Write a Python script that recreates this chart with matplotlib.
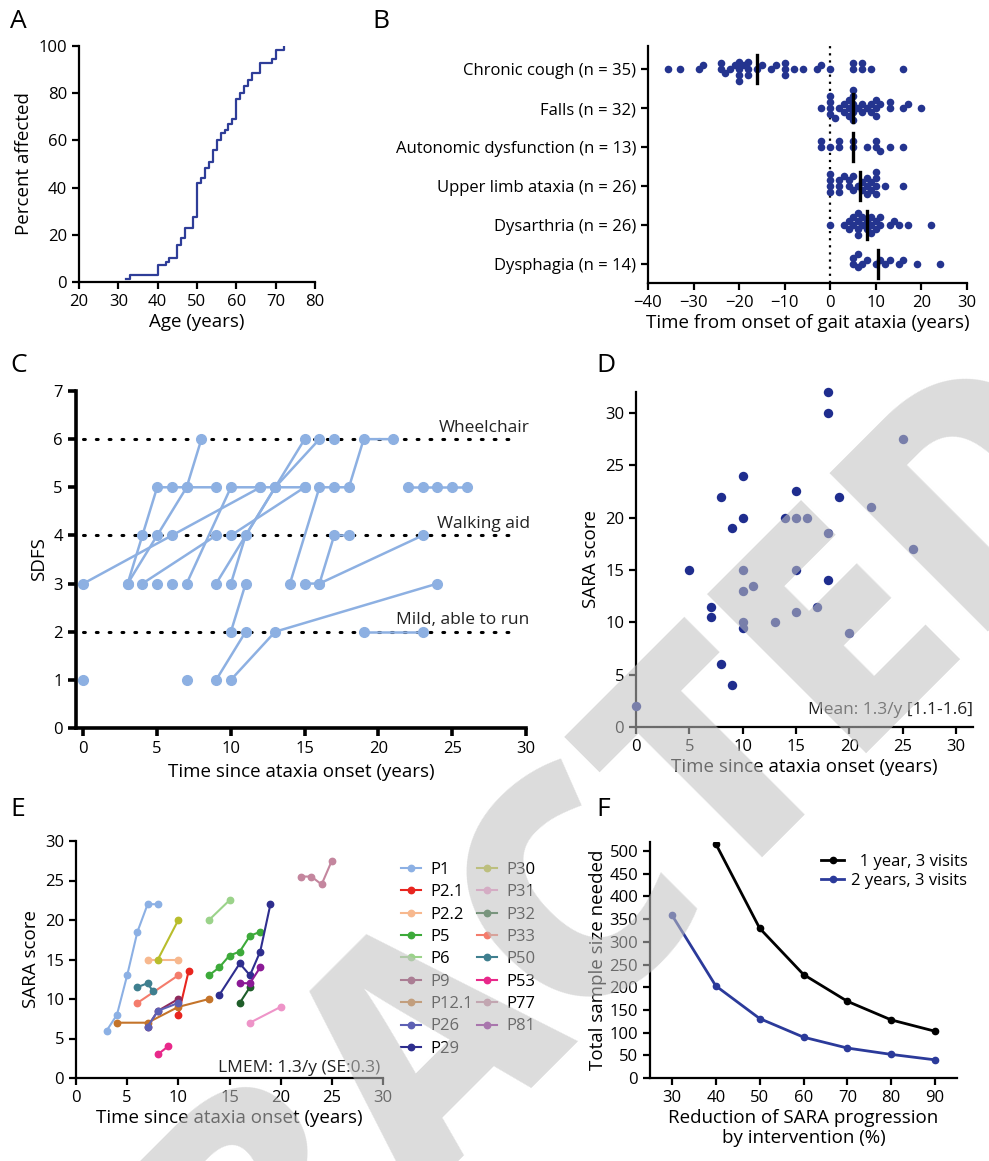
import numpy as np
import matplotlib.pyplot as plt

plt.rcParams['font.family'] = ['Open Sans', 'DejaVu Sans']
plt.rcParams['font.size'] = 12
plt.rcParams['axes.linewidth'] = 1.6
plt.rcParams['xtick.major.width'] = 1.6
plt.rcParams['ytick.major.width'] = 1.6
plt.rcParams['xtick.major.size'] = 5
plt.rcParams['ytick.major.size'] = 5
plt.rcParams['xtick.labelsize'] = 12
plt.rcParams['ytick.labelsize'] = 12
plt.rcParams['axes.labelsize'] = 13.5
plt.rcParams['xtick.direction'] = 'out'
plt.rcParams['ytick.direction'] = 'out'

NAVY = '#2e3d98'
DOT = '#24348f'
LIGHT = '#8db0e2'

# ---------------- data
# A: cumulative onset
age_steps = [32, 33, 40, 42, 43, 45, 46, 47, 49, 50, 51, 52, 53, 54, 55, 56, 57,
             58, 59, 60, 61, 62, 63, 64, 66, 69, 70, 72]
pct_affected = [1.4, 2.8, 7, 8.5, 10, 15.5, 18.5, 23, 27.5, 42, 44, 48.5, 51, 56,
                60, 63, 64.5, 67, 69, 77.5, 80, 83, 85.5, 88.5, 93, 94.5, 98.5, 100]

# B: symptom onset relative to gait ataxia
symptoms = ['Chronic cough (n = 35)', 'Falls (n = 32)', 'Autonomic dysfunction (n = 13)',
            'Upper limb ataxia (n = 26)', 'Dysarthria (n = 26)', 'Dysphagia (n = 14)']
cough = [-35.7, -32.9, -28.9, -27.9, -24, -24, -23, -22, -21, -20, -20, -20, -20, -19,
         -18, -18, -18, -16, -15, -13, -12, -10, -10, -10, -8, -6, -3, -2, 0, 5, 5, 7, 7, 9, 16]
falls = [-2, 0, 0, 0, 0, 1, 2, 3, 3, 4, 4, 4, 5, 5, 5, 5, 5, 6, 7, 7, 8, 9, 9, 10, 10, 10,
         11, 13, 13, 16, 17, 20]
autonomic = [-2, -2, 0, 2, 2, 5, 5, 8, 10, 10, 11, 13, 16]
upper_limb = [0, 0, 0, 0, 2, 2, 2, 3, 4, 4, 5, 5, 6, 7, 7, 8, 8, 8, 9, 9, 10, 10, 10, 10, 12, 16]
dysarthria = [0, 3, 4, 4, 5, 5, 6, 6, 6, 6, 7, 7, 8, 8, 9, 9, 9, 10, 10, 11, 11, 13, 14, 15, 17, 22]
dysphagia = [5, 5, 6, 6, 7, 8, 10, 11, 12, 13, 15, 16, 19, 24]

# C: SDFS trajectories (years since onset, stage)
sdfs_years = [[0], [0, 6, 12], [3, 4, 5, 6, 7, 9], [3, 5, 7, 8], [4, 9], [5], [6],
              [7, 10, 12, 13, 15], [7], [9, 11], [10, 13, 24], [10, 11], [9, 13, 15],
              [10, 11, 13, 16], [10, 15], [14, 16, 17, 18, 19, 21], [15, 16, 17, 18],
              [16, 23], [17], [19, 23], [22, 23, 24, 25, 26]]
sdfs_stage = [[1], [3, 4, 5], [3, 4, 5, 5, 5, 5], [3, 4, 5, 6], [3, 4], [3], [3],
              [3, 5, 5, 5, 5], [1], [1, 2], [1, 2, 3], [2, 3], [3, 5, 6],
              [3, 4, 5, 6], [4, 5], [3, 5, 5, 5, 6, 6], [3, 3, 4, 4],
              [3, 4], [6], [2, 2], [5, 5, 5, 5, 5]]
stage_lines = [2, 4, 6]
stage_names = ['Mild, able to run', 'Walking aid', 'Wheelchair']

# D: SARA vs disease duration
d_years = [18, 18, 25, 10, 15, 8, 19, 22, 10, 14, 15, 16, 9, 18, 26, 5, 10, 15, 18, 11,
           10, 7, 17, 15, 7, 10, 13, 10, 20, 8, 9, 0]
d_sara = [32, 30, 27.5, 24, 22.5, 22, 22, 21, 20, 20, 20, 20, 19, 18.5, 17, 15, 15, 15,
          14, 13.5, 13, 11.5, 11.5, 11, 10.5, 10, 10, 9.5, 9, 6, 4, 2]

# E: longitudinal SARA per patient
e_patients = ['P1', 'P2.1', 'P2.2', 'P5', 'P6', 'P9', 'P12.1', 'P26', 'P29',
              'P30', 'P31', 'P32', 'P33', 'P50', 'P53', 'P77', 'P81']
e_colors = ['#8cb0e4', '#e8251f', '#f7b88e', '#3daa3a', '#9bd38a', '#8e2a5c', '#c4742a',
            '#5d60b4', '#2e2e8e', '#b8bd2c', '#ee94c8', '#1f5e2a', '#f47c6c', '#3f7f8f',
            '#e8288a', '#c4869e', '#8b1a96']
e_years = [[3, 4, 5, 6, 7, 8], [10, 11], [7, 10], [13, 14, 15, 16, 17, 18], [13, 15],
           [7, 8, 10], [4, 7, 10, 13], [7, 8, 10], [14, 16, 17, 18, 19],
           [8, 10], [17, 20], [16, 17], [6, 10], [6, 7, 7.5], [8, 9], [22, 23, 24, 25],
           [16, 17, 18]]
e_sara = [[6, 8, 13, 18.5, 22, 22], [8, 13.5], [15, 15], [13, 14, 15.5, 16, 18, 18.5],
          [20, 22.5], [6.5, 8.5, 10], [7, 7, 9, 10], [6.5, 8.5, 9.5],
          [10.5, 14.5, 13, 16, 22], [15, 20], [7, 9], [9.5, 11.5], [9.5, 13],
          [11.5, 12, 11], [3, 4], [25.5, 25.5, 24.5, 27.5], [12, 12, 14]]

# F: sample size estimates
reduction = [30, 40, 50, 60, 70, 80, 90]
n_1year = [None, 516, 330, 228, 169, 128, 103]
n_2years = [359, 203, 131, 90, 66, 52, 40]

# ---------------- figure
W, H = 989, 1161
fig = plt.figure(figsize=(W / 100, H / 100), dpi=100)


def box(l, t, r, b):
    return [l / W, 1 - b / H, (r - l) / W, (b - t) / H]


def clean(ax):
    ax.spines['top'].set_visible(False)
    ax.spines['right'].set_visible(False)


# --- A
axA = fig.add_axes(box(79, 46, 315, 282))
axA.plot(age_steps, pct_affected, drawstyle='steps-post', color=NAVY, lw=1.6)
axA.set_xlim(20, 80)
axA.set_ylim(0, 100)
axA.set_xticks(range(20, 81, 10))
axA.set_yticks(range(0, 101, 20))
axA.set_xlabel('Age (years)', labelpad=2)
axA.set_ylabel('Percent affected')
clean(axA)

# --- B
axB = fig.add_axes(box(648, 46, 967, 283))
groups = [cough, falls, autonomic, upper_limb, dysarthria, dysphagia]
row_px = (283 - 46) / 6.1
sx = (967 - 648) / 70.0
diam = 6.0  # collision spacing of the swarm, px


def swarm(vals):
    xs = np.asarray(vals, float) * sx
    order = np.argsort(xs, kind='stable')
    placed = []
    offs = np.zeros(len(xs))
    for i in order:
        cands = [0.0]
        for xj, yj in placed:
            dx = xs[i] - xj
            if abs(dx) < diam:
                h = np.sqrt(diam ** 2 - dx ** 2)
                cands += [yj + h, yj - h]
        cands.sort(key=lambda c: (abs(c), c))
        for c in cands:
            if all((xs[i] - xj) ** 2 + (c - yj) ** 2 >= diam ** 2 - 1e-6 for xj, yj in placed):
                offs[i] = c
                break
        placed.append((xs[i], offs[i]))
    return offs


axB.axvline(0, color='black', lw=1.6, ls=(0, (1, 2.2)), zorder=1)
for k, vals in enumerate(groups):
    offs = swarm(vals)
    axB.scatter(vals, k + offs / row_px, s=30, color=DOT, lw=0, zorder=2)
    med = np.median(vals)
    axB.plot([med, med], [k - 0.36, k + 0.36], color='black', lw=2.4, zorder=3)
axB.set_xlim(-40, 30)
axB.set_ylim(5.5, -0.6)
axB.set_yticks(range(6))
axB.set_yticklabels(symptoms)
axB.set_xticks(range(-40, 31, 10))
axB.set_xlabel('Time from onset of gait ataxia (years)', labelpad=2)
clean(axB)

# --- C
axC = fig.add_axes(box(76, 391, 526, 728))
for s in ['left', 'bottom']:
    axC.spines[s].set_linewidth(2.6)
axC.tick_params(width=2.6, length=6)
for lvl, name in zip(stage_lines, stage_names):
    axC.plot([0, 29.2], [lvl, lvl], color='black', lw=2.2, ls=(0, (0.6, 3.6)),
             dash_capstyle='round', zorder=1)
    axC.text(30.25, lvl + 0.15, name, ha='right', va='baseline', fontsize=12.5,
             clip_on=False, color='#222222')
for xs_, ys_ in zip(sdfs_years, sdfs_stage):
    axC.plot(xs_, ys_, '-o', color=LIGHT, lw=1.8, ms=7, zorder=2)
axC.set_xlim(-0.5, 30)
axC.set_ylim(0, 7)
axC.set_xticks(range(0, 31, 5))
axC.set_yticks(range(0, 8))
axC.set_xlabel('Time since ataxia onset (years)', labelpad=4)
axC.set_ylabel('SDFS')
clean(axC)

# --- D
axD = fig.add_axes(box(636, 392, 973, 727))
axD.scatter(d_years, d_sara, s=46, color='#1f2d8e', lw=0, zorder=3, clip_on=False)
axD.set_xlim(0, 31.6)
axD.set_ylim(0, 32)
axD.set_xticks(range(0, 31, 5))
axD.set_yticks(range(0, 31, 5))
axD.text(1.0, 0.04, 'Mean: 1.3/y [1.1-1.6]', transform=axD.transAxes, ha='right',
         va='baseline', fontsize=12.5, color='#222222')
axD.set_xlabel('Time since ataxia onset (years)', labelpad=2)
axD.set_ylabel('SARA score')
clean(axD)

# --- E
axE = fig.add_axes(box(76, 841, 383, 1078))
for name, c, xs_, ys_ in zip(e_patients, e_colors, e_years, e_sara):
    axE.plot(xs_, ys_, '-o', color=c, lw=1.5, ms=4.6, label=name)
axE.set_xlim(0, 30)
axE.set_ylim(0, 30)
axE.set_xticks(range(0, 31, 5))
axE.set_yticks(range(0, 31, 5))
axE.text(0.99, 0.025, 'LMEM: 1.3/y (SE:0.3)', transform=axE.transAxes, ha='right',
         va='baseline', fontsize=12.5, color='#222222')
axE.set_xlabel('Time since ataxia onset (years)', labelpad=2)
axE.set_ylabel('SARA score')
clean(axE)
handles, labels = axE.get_legend_handles_labels()
fig.legend(handles, labels, loc='upper left', bbox_to_anchor=(401 / W, 1 - 862 / H),
           ncol=2, frameon=False, fontsize=12, borderpad=0, borderaxespad=0,
           handlelength=1.2, handletextpad=0.55, columnspacing=0.25, labelspacing=0.38)

# --- F
axF = fig.add_axes(box(650, 842, 957, 1078))
x1 = [r for r, v in zip(reduction, n_1year) if v is not None]
y1 = [v for v in n_1year if v is not None]
axF.plot(x1, y1, '-o', color='black', lw=2, ms=4.5, label='  1 year, 3 visits')
axF.plot(reduction, n_2years, '-o', color='#2b3a9a', lw=2, ms=4.5, label='2 years, 3 visits')
axF.set_xlim(25, 95)
axF.set_ylim(0, 520)
axF.set_xticks(reduction)
axF.set_yticks(range(0, 501, 50))
axF.set_xlabel('Reduction of SARA progression\nby intervention (%)', labelpad=2,
               linespacing=1.15)
axF.set_ylabel('Total sample size needed', labelpad=2)
axF.legend(loc='upper right', bbox_to_anchor=(976 / W, 1 - 846 / H),
           bbox_transform=fig.transFigure, frameon=False, fontsize=12, borderpad=0,
           handlelength=1.4, handletextpad=0.4, labelspacing=0.15)
clean(axF)

# --- panel letters
for letter, (px, py) in zip('ABCDEF', [(10, 28), (372, 28), (10, 372), (596, 372),
                                       (10, 816), (596, 816)]):
    fig.text(px / W, 1 - py / H, letter, fontsize=19, va='baseline', ha='left')

# --- watermark
fig.text(1128 / W, 1 - 468 / H, 'RETRACTED', rotation=45, rotation_mode='anchor',
         ha='right', va='baseline', fontsize=226, fontweight='heavy',
         color='#c1c1c1', alpha=0.56, zorder=100)

fig.savefig('out.png', dpi=100)
